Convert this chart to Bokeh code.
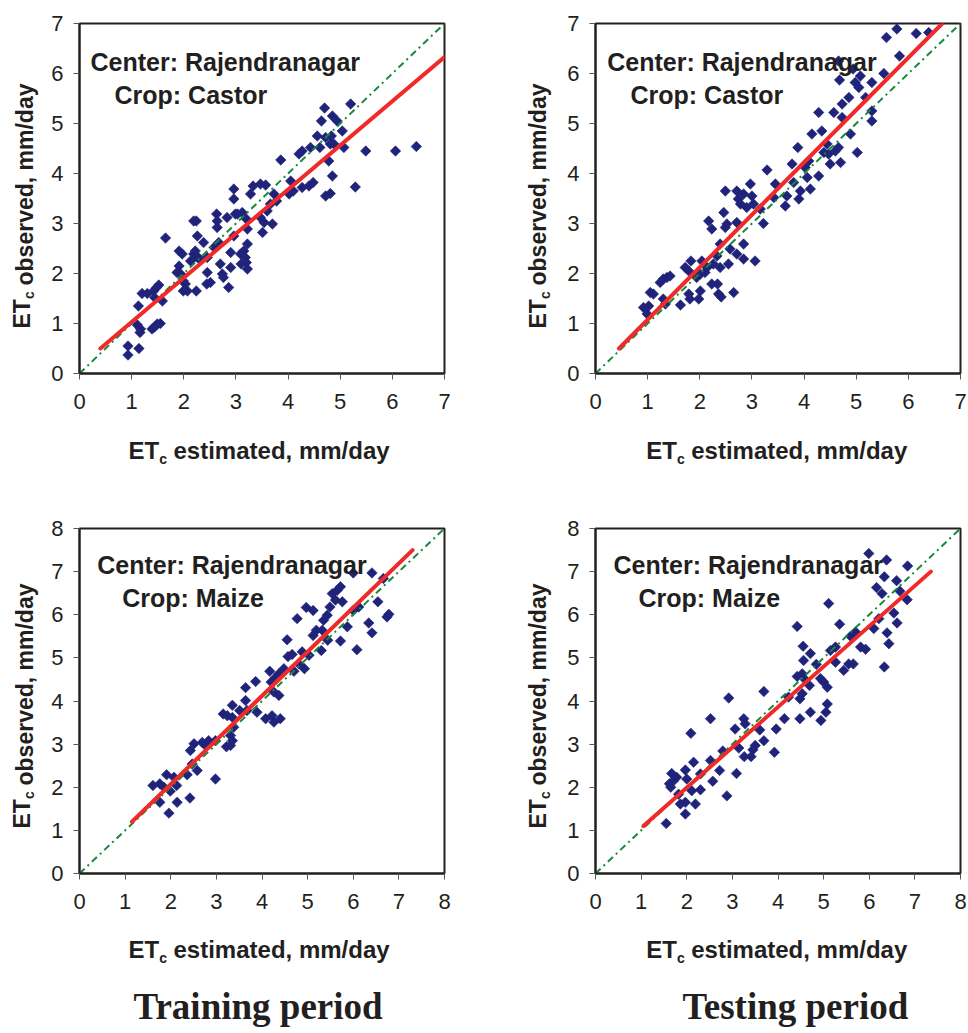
import math
from bokeh.plotting import figure
from bokeh.layouts import column, row
from bokeh.models import Label, FixedTicker, Range1d
from bokeh.embed import file_html
from bokeh.resources import INLINE

# ---------------- data ----------------
castor_train_est = [0.93, 0.93, 1.14, 1.11, 1.16, 1.17, 1.13, 1.20, 1.30, 1.42, 1.48, 1.52, 1.59, 1.44,
                    1.39, 1.49, 1.55, 1.44, 1.65, 1.91, 1.97, 1.91, 1.94, 1.99, 1.99, 2.07, 2.03, 2.13,
                    2.19, 2.22, 2.19, 2.24, 2.26, 2.26, 2.24, 2.38, 2.45, 2.45, 2.44, 2.51, 2.58, 2.63,
                    2.64, 2.64, 2.67, 2.70, 2.74, 2.76, 2.83, 2.86, 2.90, 2.90, 2.96, 2.96, 2.99, 2.96,
                    3.03, 3.09, 3.10, 3.12, 3.15, 3.18, 3.20, 3.22, 3.22, 3.22, 3.20, 3.28, 3.33, 3.47,
                    3.57, 3.47, 3.51, 3.54, 3.60, 3.66, 3.70, 3.73, 3.78, 3.86, 4.02, 4.05, 4.10, 4.21,
                    4.27, 4.27, 4.40, 4.43, 4.48, 4.56, 4.61, 4.64, 4.70, 4.72, 4.72, 4.78, 4.81, 4.81,
                    4.83, 4.85, 4.85, 4.88, 4.94, 5.04, 5.07, 5.20, 5.29, 5.49, 6.06, 6.46, 1.87, 2.30]
castor_train_obs = [0.37, 0.55, 0.50, 0.97, 0.82, 0.89, 1.35, 1.60, 1.60, 1.65, 1.72, 1.77, 1.45, 1.52,
                    0.89, 0.99, 1.00, 0.93, 2.71, 2.45, 2.39, 2.15, 1.99, 1.85, 1.65, 1.65, 1.79, 2.25,
                    2.39, 2.45, 3.05, 3.05, 2.75, 2.32, 1.65, 2.62, 2.32, 2.02, 1.79, 1.82, 2.52, 3.19,
                    3.05, 2.92, 2.62, 2.19, 1.99, 1.92, 3.12, 1.72, 2.42, 2.12, 3.69, 3.49, 3.19, 2.75,
                    3.19, 2.39, 2.19, 3.22, 2.45, 2.32, 2.22, 2.09, 2.89, 2.59, 3.09, 3.59, 3.75, 3.79,
                    3.77, 3.12, 2.82, 3.02, 3.25, 3.39, 2.99, 3.59, 3.45, 4.27, 3.59, 3.85, 3.65, 4.39,
                    4.45, 3.72, 3.75, 4.52, 3.82, 4.75, 4.52, 5.05, 5.31, 4.72, 3.55, 4.25, 4.59, 3.60,
                    4.75, 5.15, 3.95, 4.59, 5.05, 4.85, 4.52, 5.39, 3.73, 4.45, 4.45, 4.54, 2.02, 2.30]

castor_test_est = [0.92, 1.02, 0.99, 1.05, 1.11, 1.24, 1.30, 1.37, 1.43, 1.30, 1.34, 1.63, 1.72, 1.79,
                   1.83, 1.79, 1.81, 1.98, 2.01, 1.94, 2.01, 2.04, 2.10, 2.14, 2.17, 2.23, 2.23, 2.26,
                   2.34, 2.36, 2.41, 2.39, 2.33, 2.39, 2.46, 2.49, 2.52, 2.49, 2.55, 2.58, 2.65, 2.71,
                   2.74, 2.78, 2.71, 2.71, 2.84, 2.90, 2.97, 3.00, 3.03, 2.84, 2.84, 3.06, 3.22, 3.16,
                   3.29, 3.45, 3.42, 3.64, 3.67, 3.77, 3.80, 3.88, 3.90, 3.93, 4.02, 4.06, 4.09, 4.12,
                   4.15, 4.28, 4.28, 4.34, 4.38, 4.44, 4.47, 4.50, 4.57, 4.60, 4.66, 4.66, 4.68, 4.70,
                   4.73, 4.73, 4.86, 4.89, 4.94, 4.98, 5.02, 5.05, 5.08, 5.18, 5.30, 5.30, 5.30, 5.53,
                   5.58, 5.78, 5.83, 6.15, 6.39]
castor_test_obs = [1.32, 1.35, 1.19, 1.62, 1.59, 1.82, 1.89, 1.92, 1.95, 1.49, 1.39, 1.37, 2.12, 2.05,
                   2.25, 1.59, 1.49, 1.49, 1.65, 1.92, 1.99, 2.25, 2.02, 2.12, 3.05, 2.89, 1.79, 2.19,
                   1.79, 1.59, 1.53, 2.12, 2.35, 2.59, 3.22, 3.65, 2.99, 2.92, 2.19, 2.49, 1.62, 3.65,
                   3.49, 3.39, 3.02, 2.39, 3.59, 3.32, 3.79, 3.55, 3.39, 2.59, 2.29, 2.25, 3.00, 3.29,
                   4.07, 3.79, 3.52, 3.35, 3.55, 4.19, 3.82, 4.52, 3.49, 3.65, 4.12, 3.92, 4.25, 3.69,
                   4.79, 5.22, 3.95, 4.85, 4.42, 4.59, 4.39, 4.19, 5.22, 4.45, 4.52, 6.25, 5.87, 4.22,
                   5.39, 5.12, 5.52, 4.79, 6.09, 5.82, 4.42, 5.72, 5.95, 5.52, 5.82, 5.25, 5.05, 6.00,
                   6.72, 6.89, 6.35, 6.80, 6.82]

maize_train_est = [1.61, 1.76, 1.76, 1.85, 1.91, 1.96, 1.99, 2.07, 2.13, 2.14, 2.36, 2.42, 2.47, 2.43,
                   2.51, 2.58, 2.69, 2.76, 2.83, 2.98, 2.98, 3.15, 3.24, 3.22, 3.31, 3.31, 3.35, 3.35,
                   3.38, 3.35, 3.51, 3.64, 3.64, 3.67, 3.86, 3.89, 4.08, 4.17, 4.22, 4.26, 4.26, 4.37,
                   4.40, 4.20, 4.30, 4.37, 4.48, 4.55, 4.57, 4.66, 4.70, 4.77, 4.81, 4.88, 4.93, 4.97,
                   5.03, 5.12, 5.12, 5.19, 5.30, 5.32, 5.35, 5.43, 5.44, 5.49, 5.54, 5.61, 5.65, 5.72,
                   5.76, 5.72, 5.87, 6.00, 6.08, 6.12, 6.00, 6.34, 6.41, 6.41, 6.54, 6.66, 6.74, 6.78]
maize_train_obs = [2.04, 1.65, 2.08, 2.00, 2.29, 1.40, 1.91, 2.23, 2.04, 1.65, 2.29, 1.75, 2.54, 2.85,
                   3.01, 2.39, 3.04, 2.97, 3.08, 3.08, 2.19, 3.70, 3.66, 2.94, 2.97, 3.20, 3.08, 3.90,
                   3.39, 3.62, 3.78, 4.31, 4.01, 3.78, 4.45, 3.74, 3.59, 4.69, 3.66, 3.51, 4.21, 4.13,
                   3.59, 4.44, 4.55, 4.63, 4.75, 5.42, 5.03, 5.08, 4.69, 5.91, 4.86, 5.14, 4.75, 6.17,
                   5.06, 6.10, 5.52, 5.64, 5.17, 5.64, 5.87, 5.99, 5.41, 6.18, 6.49, 6.34, 6.57, 6.65,
                   6.30, 5.39, 5.72, 6.97, 5.19, 6.18, 6.10, 5.81, 6.97, 5.58, 6.30, 6.84, 5.95, 6.01]

maize_test_est = [1.55, 1.62, 1.67, 1.71, 1.78, 1.65, 1.82, 1.86, 1.97, 1.97, 1.97, 2.00, 2.09, 2.11,
                  2.15, 2.19, 2.30, 2.30, 2.52, 2.52, 2.57, 2.72, 2.79, 2.88, 2.92, 3.06, 3.09, 3.14,
                  3.25, 3.28, 3.26, 3.41, 3.45, 3.50, 3.60, 3.69, 3.69, 3.92, 3.96, 4.14, 4.23, 4.42,
                  4.42, 4.48, 4.48, 4.53, 4.53, 4.55, 4.56, 4.60, 4.69, 4.71, 4.71, 4.84, 4.93, 4.94,
                  5.00, 5.05, 5.08, 5.08, 5.11, 5.15, 5.26, 5.26, 5.35, 5.44, 5.55, 5.59, 5.65, 5.70,
                  5.81, 5.92, 5.99, 6.10, 6.16, 6.21, 6.28, 6.33, 6.33, 6.38, 6.39, 6.43, 6.54, 6.60,
                  6.61, 6.67, 6.83, 6.84]
maize_test_obs = [1.16, 2.08, 2.32, 2.15, 2.23, 2.00, 1.84, 1.61, 2.40, 1.38, 1.65, 2.19, 3.25, 1.92,
                  2.58, 1.61, 1.94, 2.31, 3.59, 2.62, 2.14, 2.39, 2.84, 1.80, 4.07, 3.35, 2.32, 2.91,
                  3.59, 3.47, 2.71, 2.71, 2.87, 2.97, 3.33, 3.08, 4.22, 2.81, 3.35, 3.59, 4.09, 5.73,
                  4.57, 3.59, 4.05, 4.17, 4.63, 5.27, 4.94, 4.49, 4.36, 5.10, 3.74, 4.85, 4.52, 3.55,
                  4.44, 3.74, 3.93, 4.32, 6.26, 5.17, 4.90, 5.25, 5.78, 4.71, 4.86, 5.50, 4.86, 5.60,
                  5.25, 5.20, 7.42, 5.68, 6.63, 5.91, 6.49, 6.88, 4.79, 7.27, 5.58, 5.33, 6.04, 6.79,
                  5.81, 6.55, 6.35, 7.13]

# regression (red) line end points
castor_train_fit_x = [0.40, 7.00]
castor_train_fit_y = [0.50, 6.33]
castor_test_fit_x = [0.45, 6.65]
castor_test_fit_y = [0.50, 7.00]
maize_train_fit_x = [1.15, 7.30]
maize_train_fit_y = [1.20, 7.50]
maize_test_fit_x = [1.05, 7.35]
maize_test_fit_y = [1.10, 7.00]

castor_limit = 7
maize_limit = 8
center_name = "Center: Rajendranagar"
crop_castor = "Crop: Castor"
crop_maize = "Crop: Maize"
x_label_main, y_label_main, label_sym, label_sub = "estimated, mm/day", "observed, mm/day", "ET", "c"
period_titles = ["Training period", "Testing period"]

# ---------------- styling ----------------
SANS = "Liberation Sans"
SERIF = "Liberation Serif"
INK = "#231f20"
NAVY = "#20237a"
RED = "#f02a28"
GREEN = "#16893c"
R90 = math.pi / 2


def lab(p, place, x, y, text, size, angle=0.0, font=SANS):
    p.add_layout(Label(x=x, y=y, x_units="screen", y_units="screen", text=text,
                       text_font=font, text_font_style="bold", text_font_size=size,
                       text_color=INK, text_align="left", text_baseline="alphabetic",
                       angle=angle), place)


def panel(est, obs, fx, fy, lim, fh, ml, mr, mt, mb, center_xy, crop_xy, crop_text,
          xlab_x, xlab_dy, ylab_x, obs_in_left, title=None, title_x=0):
    p = figure(frame_width=365, frame_height=fh,
               x_range=Range1d(0, lim), y_range=Range1d(0, lim),
               min_border_left=ml, min_border_right=mr, min_border_top=mt, min_border_bottom=mb,
               output_backend="svg", toolbar_location=None)
    p.grid.visible = False
    p.background_fill_color = "white"
    p.border_fill_color = "white"
    p.outline_line_color = INK
    p.outline_line_width = 2
    for ax in (p.xaxis[0], p.yaxis[0]):
        ax.ticker = FixedTicker(ticks=list(range(0, lim + 1)))
        ax.minor_tick_line_color = None
        ax.major_tick_in = 0
        ax.major_tick_out = 6
        ax.major_tick_line_color = "#555555"
        ax.major_tick_line_width = 1
        ax.axis_line_color = INK
        ax.axis_line_width = 2
        ax.major_label_text_font = SANS
        ax.major_label_text_font_size = "22px"
        ax.major_label_text_color = INK
    p.yaxis[0].major_label_standoff = 10
    p.xaxis[0].major_label_standoff = 14

    p.scatter(est, obs, marker="square", angle=math.pi / 4, size=7.4,
              fill_color=NAVY, line_color=NAVY, line_width=0.6)
    p.line([0, lim], [0, lim], line_color=GREEN, line_width=2, line_dash="7 4 2 4")
    p.line(fx, fy, line_color=RED, line_width=4, line_cap="round")

    lab(p, "center", center_xy[0], center_xy[1], center_name, "25px")
    lab(p, "center", crop_xy[0], crop_xy[1], crop_text, "25px")

    # x axis label pieces (stacked below the x axis; y relative to each piece's slot)
    lab(p, "below", xlab_x, -12 + xlab_dy, label_sym, "24px")
    lab(p, "below", xlab_x + 30.7, -4 + xlab_dy, label_sub, "14px")
    lab(p, "below", xlab_x + 45, 31 + xlab_dy, x_label_main, "24px")
    if title is not None:
        lab(p, "below", title_x, 16, title, "37px", font=SERIF)

    # y axis label pieces (rotated)
    lab(p, "left", 4.3 + ylab_x, 45, label_sym, "23px", angle=R90)
    lab(p, "left", 27.3 + ylab_x, 74.4, label_sub, "14px", angle=R90)
    if obs_in_left:
        lab(p, "left", 46.3 + ylab_x, 88, y_label_main, "23px", angle=R90)
    else:
        lab(p, "right", -414.7 + ylab_x, 88, y_label_main, "23px", angle=R90)
    return p


p1 = panel(castor_train_est, castor_train_obs, castor_train_fit_x, castor_train_fit_y,
           castor_limit, 350, 79, 48, 23, 125, (11, 312), (35, 279), crop_castor,
           49, 0, -5.0, False)
p2 = panel(castor_test_est, castor_test_obs, castor_test_fit_x, castor_test_fit_y,
           castor_limit, 350, 103, 8, 23, 125, (11.7, 312), (35, 279), crop_castor,
           50.7, 0, -4.5, True)
p3 = panel(maize_train_est, maize_train_obs, maize_train_fit_x, maize_train_fit_y,
           maize_limit, 345, 79, 48, 30, 160, (17.7, 309), (42.7, 276), crop_maize,
           49, 1, -5.0, False, period_titles[0], 54)
p4 = panel(maize_test_est, maize_test_obs, maize_test_fit_x, maize_test_fit_y,
           maize_limit, 345, 103, 8, 30, 160, (18, 309), (43, 276), crop_maize,
           50.7, 1, -4.5, True, period_titles[1], 87)

layout = column(row(p1, p2), row(p3, p4))
open("out.html", "w").write(file_html(layout, INLINE))
